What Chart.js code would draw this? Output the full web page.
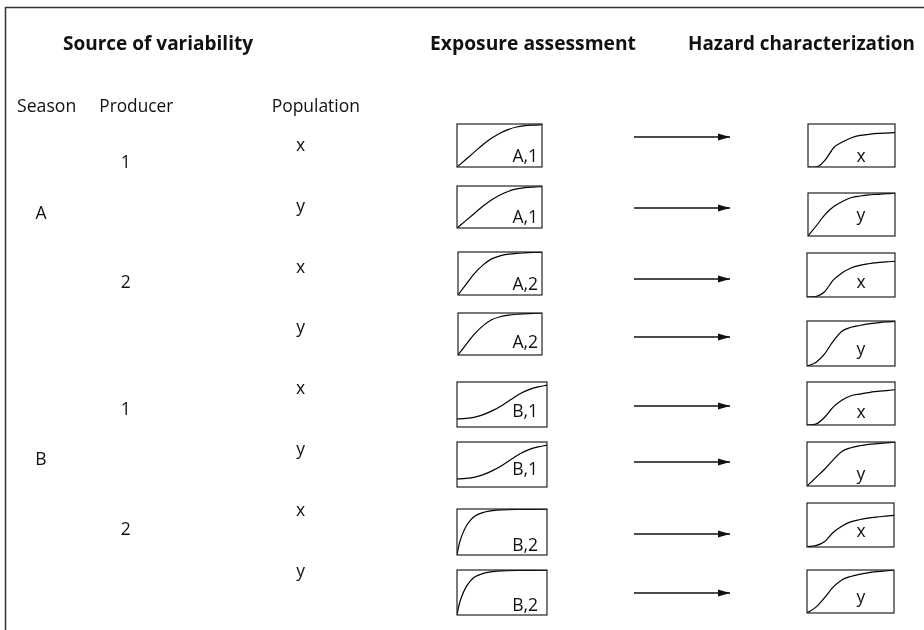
<!DOCTYPE html>
<html>
<head>
<meta charset="utf-8">
<script src="https://cdn.jsdelivr.net/npm/chart.js@4.4.1/dist/chart.umd.min.js"></script>
<style>
  html, body { margin: 0; padding: 0; background: #fff; }
  #stage { position: relative; width: 924px; height: 630px; overflow: hidden; background: #fff; }
  #stage canvas { position: absolute; }
  #overlay { position: absolute; left: 0; top: 0; pointer-events: none; }
  #overlay text { font-family: "Open Sans", "Noto Sans", sans-serif; fill: #111; }
</style>
</head>
<body>
<div id="stage">
  <svg id="overlay" width="924" height="630" xmlns="http://www.w3.org/2000/svg">
    <defs>
      <marker id="ah" markerUnits="userSpaceOnUse" markerWidth="12" markerHeight="8" refX="12" refY="4" orient="auto">
        <path d="M0,0.5 L12,4 L0,7.5 z" fill="#111"></path>
      </marker>
    </defs>
  </svg>
</div>
<script>
// ---------------- DATA ----------------
const headings = ['Source of variability', 'Exposure assessment', 'Hazard characterization'];
const columnHeaders = ['Season', 'Producer', 'Population'];
const seasons = ['A', 'B'];
const producers = ['1', '2', '1', '2'];
const populations = ['x', 'y', 'x', 'y', 'x', 'y', 'x', 'y'];
const exposureLabels = ['A,1', 'A,1', 'A,2', 'A,2', 'B,1', 'B,1', 'B,2', 'B,2'];

// normalized dose (x) grids of the small panels
const doseGrid = [0, 0.1, 0.2, 0.3, 0.4, 0.5, 0.6, 0.7, 0.8, 0.9, 1];
const doseGridFine = [0, 0.02, 0.05, 0.1, 0.15, 0.2, 0.3, 0.4, 0.5, 0.7, 1];

// exposure assessment curves (cumulative, 0..1)
const exposureA1 = [0, 0.17, 0.34, 0.51, 0.66, 0.78, 0.87, 0.93, 0.96, 0.975, 0.985];
const exposureA2 = [0, 0.26, 0.51, 0.70, 0.84, 0.91, 0.95, 0.97, 0.98, 0.99, 0.995];
const exposureB1 = [0.18, 0.19, 0.22, 0.28, 0.37, 0.48, 0.61, 0.74, 0.83, 0.89, 0.93];
const exposureB2 = [0, 0.2, 0.4, 0.62, 0.76, 0.85, 0.93, 0.965, 0.98, 0.99, 0.995];

// hazard characterization (dose-response) curves, one per row
const hazard1 = [0, 0.005, 0.17, 0.46, 0.585, 0.68, 0.735, 0.76, 0.78, 0.79, 0.80];
const hazard2 = [0, 0.25, 0.51, 0.69, 0.81, 0.895, 0.93, 0.955, 0.97, 0.985, 0.995];
const hazard3 = [0, 0.01, 0.12, 0.39, 0.55, 0.66, 0.72, 0.755, 0.78, 0.80, 0.81];
const hazard4 = [0, 0.08, 0.27, 0.56, 0.78, 0.86, 0.90, 0.935, 0.96, 0.98, 0.99];
const hazard5 = [0, 0.02, 0.18, 0.42, 0.58, 0.68, 0.72, 0.755, 0.78, 0.80, 0.82];
const hazard6 = [0, 0.19, 0.38, 0.60, 0.79, 0.87, 0.915, 0.945, 0.965, 0.98, 0.995];
const hazard7 = [0.01, 0.03, 0.12, 0.33, 0.47, 0.57, 0.62, 0.655, 0.68, 0.70, 0.72];
const hazard8 = [0, 0.13, 0.35, 0.60, 0.77, 0.85, 0.90, 0.935, 0.96, 0.98, 0.995];

// ---------------- LAYOUT (positions / sizes) ----------------
const headingLayout = [[158, 50, 190], [533, 50, 206], [801.5, 50, 227]]; // cx, baseline, width
const columnLayout = [[17, 111.5, 59.3], [99.3, 111.5, 74], [271.7, 111.5, 88.3]]; // left, baseline, width
const seasonLayout = { x: 41, y: [219, 465] };
const producerLayout = { x: 125.7, y: [168, 288, 415, 535] };
const populationLayout = { x: 300.7, y: [151, 212, 273, 333, 394, 455, 516, 577] };
const exposureBoxes = [[457,124,542,167],[457,186,542,228],[458,252,542,295],[458,313,542,355],
                       [457,382,547,427],[457,442,547,487],[457,509,547,555],[457,570,547,615]];
const hazardBoxes = [[808,124,895,167],[808,193,895,236],[807,253,895,297],[807,321,895,366],
                     [807,382,895,425],[807,442,895,486],[807,503,894,547],[807,570,894,613]];
const exposureLabelLayout = { right: 538, y: [162, 223, 290, 348, 417, 475, 551, 611] };
const hazardLabelLayout = { x: 861, y: [162, 221, 288, 355, 418, 480, 537, 603] };
const arrowLayout = { x1: 634, x2: 730, y: [137, 208, 279, 337, 406, 462, 534, 593] };
const baseFont = 17.5;

// ---------------- BUILD ----------------
const exposureCurves = {
  'A,1': { x: doseGrid, y: exposureA1 },
  'A,2': { x: doseGrid, y: exposureA2 },
  'B,1': { x: doseGrid, y: exposureB1 },
  'B,2': { x: doseGridFine, y: exposureB2 }
};
const hazardCurves = [hazard1, hazard2, hazard3, hazard4, hazard5, hazard6, hazard7, hazard8];

const NS = 'http://www.w3.org/2000/svg';
const stage = document.getElementById('stage');
const overlay = document.getElementById('overlay');

function svgEl(tag, attrs) {
  const e = document.createElementNS(NS, tag);
  for (const k in attrs) e.setAttribute(k, attrs[k]);
  overlay.appendChild(e);
  return e;
}
function addText(str, x, y, opts) {
  opts = opts || {};
  const t = svgEl('text', {
    x: x, y: y,
    'text-anchor': opts.anchor || 'middle',
    'font-size': baseFont,
    'font-weight': opts.bold ? 700 : 400
  });
  t.textContent = str;
  if (opts.fit) {
    const len = t.getComputedTextLength();
    if (len > 0) t.setAttribute('font-size', (baseFont * opts.fit / len).toFixed(2));
  }
  return t;
}

const boxPlugin = {
  id: 'panelBox',
  afterDraw(chart) {
    const { ctx, chartArea: a } = chart;
    ctx.save();
    ctx.strokeStyle = '#222';
    ctx.lineWidth = 1.2;
    ctx.strokeRect(a.left, a.top, a.right - a.left, a.bottom - a.top);
    ctx.restore();
  }
};

function miniChart(box, xs, ys) {
  const pad = 2;
  const w = box[2] - box[0] + 2 * pad;
  const h = box[3] - box[1] + 2 * pad;
  const c = document.createElement('canvas');
  c.width = w; c.height = h;
  c.style.left = (box[0] - pad) + 'px';
  c.style.top = (box[1] - pad) + 'px';
  c.style.width = w + 'px';
  c.style.height = h + 'px';
  stage.insertBefore(c, overlay);
  return new Chart(c, {
    type: 'line',
    data: {
      datasets: [{
        data: xs.map((x, i) => ({ x: x, y: ys[i] })),
        borderColor: '#000',
        borderWidth: 1.2,
        pointRadius: 0,
        fill: false,
        cubicInterpolationMode: 'monotone'
      }]
    },
    options: {
      responsive: false,
      animation: false,
      devicePixelRatio: 1,
      events: [],
      layout: { padding: pad },
      plugins: { legend: { display: false }, tooltip: { enabled: false }, title: { display: false } },
      scales: {
        x: { type: 'linear', min: 0, max: 1, display: false },
        y: { type: 'linear', min: 0, max: 1, display: false }
      }
    },
    plugins: [boxPlugin]
  });
}

// frame
svgEl('line', { x1: 5.5, y1: 7.5, x2: 924, y2: 7.5, stroke: '#333', 'stroke-width': 1.5 });
svgEl('line', { x1: 5.5, y1: 7, x2: 5.5, y2: 630, stroke: '#333', 'stroke-width': 1.5 });

// headings
headings.forEach((h, i) => {
  const L = headingLayout[i];
  addText(h, L[0], L[1], { bold: true, fit: L[2] });
});
columnHeaders.forEach((h, i) => {
  const L = columnLayout[i];
  addText(h, L[0], L[1], { anchor: 'start', fit: L[2] });
});
seasons.forEach((s, i) => addText(s, seasonLayout.x, seasonLayout.y[i]));
producers.forEach((p, i) => addText(p, producerLayout.x, producerLayout.y[i]));
populations.forEach((p, i) => addText(p, populationLayout.x, populationLayout.y[i]));

// rows: exposure panel -> arrow -> hazard panel
exposureLabels.forEach((lab, i) => {
  const cur = exposureCurves[lab];
  miniChart(exposureBoxes[i], cur.x, cur.y);
  addText(lab, exposureLabelLayout.right, exposureLabelLayout.y[i], { anchor: 'end' });

  svgEl('line', {
    x1: arrowLayout.x1, y1: arrowLayout.y[i], x2: arrowLayout.x2, y2: arrowLayout.y[i],
    stroke: '#111', 'stroke-width': 1.3, 'marker-end': 'url(#ah)'
  });

  miniChart(hazardBoxes[i], doseGrid, hazardCurves[i]);
  addText(populations[i], hazardLabelLayout.x, hazardLabelLayout.y[i]);
});
</script>
</body>
</html>
